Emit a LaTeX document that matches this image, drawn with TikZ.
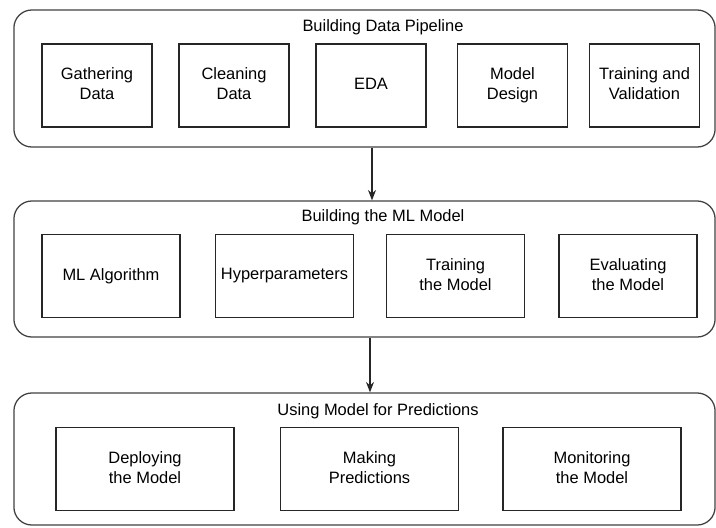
\documentclass[tikz,border=0pt]{standalone}
\usepackage{fontspec}
\setmainfont{Liberation Sans}
\usepackage{xcolor}
\usetikzlibrary{shapes,arrows.meta,positioning}

\begin{document}
\begin{tikzpicture}[
    x=0.025cm, y=-0.025cm,
    font=\fontsize{11.7pt}{14.2pt}\selectfont,
    stage/.style={
        draw=black!75,
        line width=0.9pt,
        rounded corners=0.45cm,
        minimum width=17.525cm,
        inner sep=0pt},
    task/.style={
        draw=black!85,
        line width=1pt,
        align=center,
        inner sep=0pt,
        execute at end node={\vphantom{g}},
        minimum height=2.075cm},
    flow/.style={
        draw=black!85,
        line width=0.9pt,
        -{Stealth[length=0.26cm,width=0.2cm]}}
    ]
    \useasboundingbox (0,0) rectangle (716,527);

    % stages
    \node[stage, minimum height=3.425cm] (pipeline) at (364.5,78.5) {};
    \node[stage, minimum height=3.4cm] (mlmodel) at (364.5,269) {};
    \node[stage, minimum height=3.3cm] (predict) at (364.5,459) {};

    \node (pipelinetitle) at (383,27) {Building Data Pipeline};
    \node (mlmodeltitle) at (383,217) {Building the ML Model};
    \node (predicttitle) at (378,411) {Using Model for Predictions};

    % building data pipeline
    \node[task, minimum width=2.75cm] (gather) at (97,85.5) {Gathering\\Data};
    \node[task, minimum width=2.75cm] (clean) at (234,85.5) {Cleaning\\Data};
    \node[task, minimum width=2.75cm] (eda) at (371,85.5) {EDA};
    \node[task, minimum width=2.75cm] (design) at (512.5,85.5) {Model\\Design};
    \node[task, minimum width=2.75cm] (trainval) at (644.5,85.5) {Training and\\Validation};

    % building the ml model
    \node[task, minimum width=3.44cm] (algo) at (111,276) {ML Algorithm};
    \node[task, minimum width=3.44cm] (hyper) at (284.5,276) {Hyperparameters};
    \node[task, minimum width=3.44cm] (train) at (455.5,276) {Training\\the Model};
    \node[task, minimum width=3.44cm] (evaluate) at (628,276) {Evaluating\\the Model};

    % using model for predictions
    \node[task, minimum width=4.45cm] (deploy) at (145,469) {Deploying\\the Model};
    \node[task, minimum width=4.45cm] (predictions) at (369.5,469) {Making\\Predictions};
    \node[task, minimum width=4.45cm] (monitor) at (592,469) {Monitoring\\the Model};

    % flow between stages
    \coordinate (firstx) at (372,0);
    \coordinate (secondx) at (370,0);
    \draw[flow] (pipeline.south -| firstx) -- (mlmodel.north -| firstx);
    \draw[flow] (mlmodel.south -| secondx) -- (predict.north -| secondx);

\end{tikzpicture}
\end{document}
